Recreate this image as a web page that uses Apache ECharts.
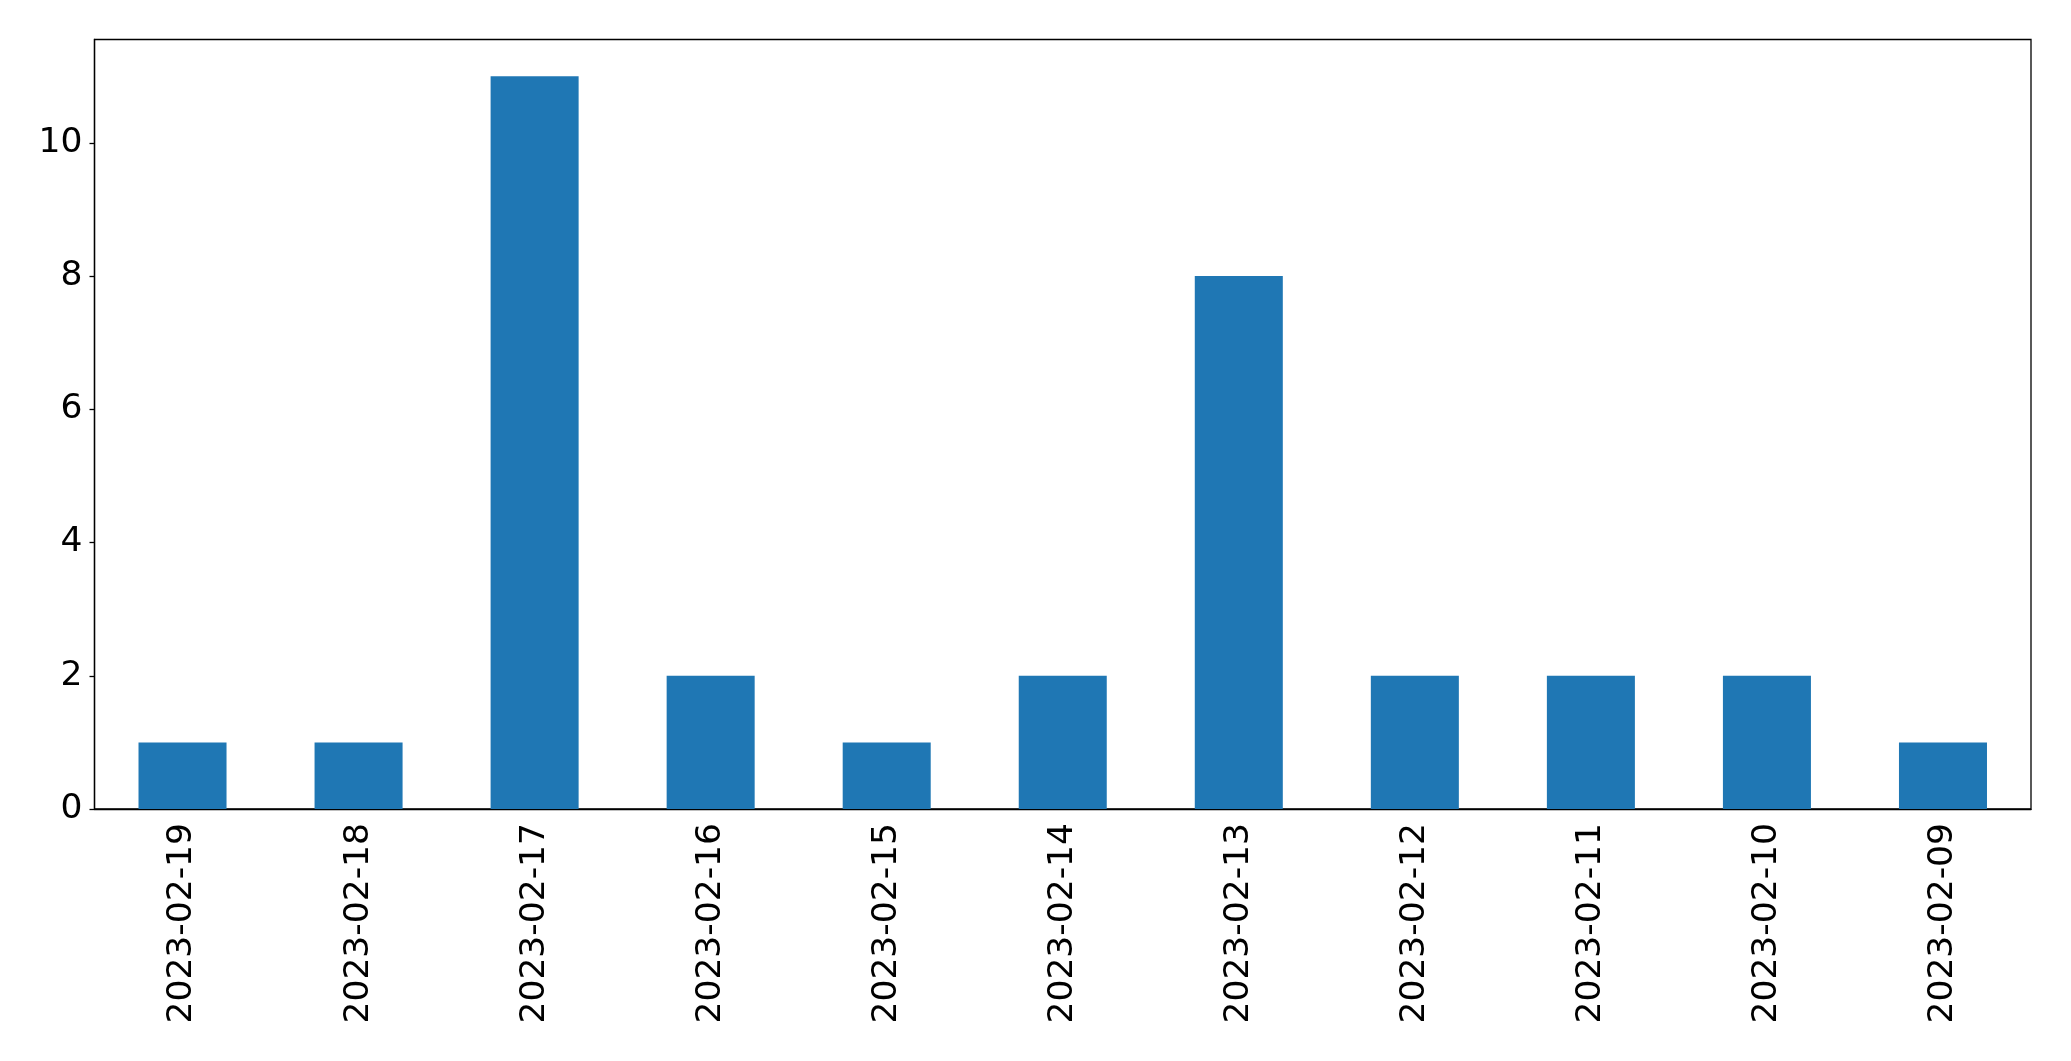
<!DOCTYPE html>
<html><head><meta charset="utf-8">
<script src="https://cdn.jsdelivr.net/npm/echarts@6/dist/echarts.min.js"></script>
<style>html,body{margin:0;padding:0;background:#fff}#c{width:2071px;height:1061px}</style>
</head><body><div id="c"></div>
<script>
const categories = ['2023-02-19','2023-02-18','2023-02-17','2023-02-16','2023-02-15','2023-02-14','2023-02-13','2023-02-12','2023-02-11','2023-02-10','2023-02-09'];
const values = [1,1,11,2,1,2,8,2,2,2,1];
const yTicks = [0,2,4,6,8,10];

const chart = echarts.init(document.getElementById('c'), null, {renderer:'canvas'});
const font = 'DejaVu Sans';
chart.setOption({
  animation:false,
  backgroundColor:'#fff',
  grid:{left:94.5, right:40, top:39.5, bottom:252, show:true, borderColor:'#000', borderWidth:1.3, backgroundColor:'transparent'},
  xAxis:{type:'category', data:categories, boundaryGap:true,
    axisLine:{lineStyle:{color:'#000', width:1.3}},
    axisTick:{alignWithLabel:true, length:5, lineStyle:{color:'#000', width:1.3}},
    axisLabel:{rotate:90, color:'#000', fontFamily:font, fontSize:34.5, margin:14, interval:0}},
  yAxis:{type:'value', min:0, max:11.55, interval:2,
    axisLine:{show:true, lineStyle:{color:'#000', width:1.3}},
    axisTick:{show:true, length:5, lineStyle:{color:'#000', width:1.3}},
    splitLine:{show:false},
    axisLabel:{color:'#000', fontFamily:font, fontSize:34.5, margin:12, showMaxLabel:false,
      formatter:v => yTicks.includes(v) ? String(v) : ''}},
  series:[{type:'bar', data:values, barWidth:'50%', itemStyle:{color:'#1f77b4'}}]
});
</script></body></html>
